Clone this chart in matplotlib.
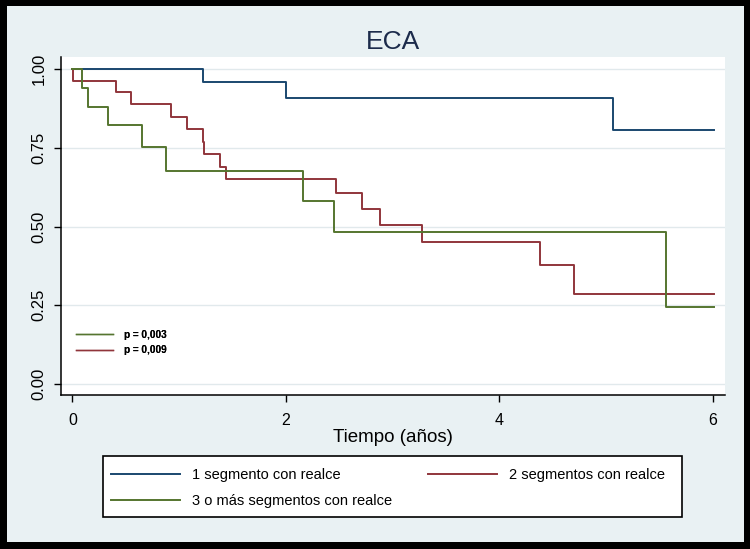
import matplotlib
matplotlib.use("Agg")
import matplotlib.pyplot as plt
from matplotlib.patches import Rectangle
from matplotlib.lines import Line2D

plt.rcParams['font.family'] = ['Liberation Sans', 'DejaVu Sans']

# ---- data ----
t_end = 6.01
blue_times = [0.0, 1.22, 2.00, 5.07]
blue_surv = [1.000, 0.959, 0.909, 0.807]
red_times = [0.0, 0.01, 0.41, 0.55, 0.92, 1.07, 1.22, 1.23, 1.38, 1.44,
             2.47, 2.71, 2.88, 3.28, 4.38, 4.70]
red_surv = [1.000, 0.963, 0.927, 0.890, 0.849, 0.811, 0.770, 0.731, 0.689, 0.650,
            0.606, 0.555, 0.505, 0.452, 0.379, 0.285]
green_times = [0.0, 0.09, 0.15, 0.33, 0.65, 0.88, 2.16, 2.45, 5.56]
green_surv = [1.000, 0.941, 0.879, 0.822, 0.754, 0.678, 0.582, 0.482, 0.244]

labels = ["1 segmento con realce", "2 segmentos con realce", "3 o más segmentos con realce"]
pvals = ["p = 0,003", "p = 0,009"]
xticks = [0, 2, 4, 6]
yticks = [0.0, 0.25, 0.5, 0.75, 1.0]
ytick_labels = ["0.00", "0.25", "0.50", "0.75", "1.00"]

c_blue = "#1a476f"
c_red = "#90353b"
c_green = "#55752f"
bg = "#e9f1f3"

W, H = 750, 549
fig = plt.figure(figsize=(W / 100, H / 100), dpi=100)
fig.patch.set_facecolor("black")
fig.patches.append(Rectangle((7 / W, 1 - 542 / H), 737 / W, 536 / H,
                             transform=fig.transFigure, facecolor=bg,
                             edgecolor="none", zorder=-10))

ax = fig.add_axes([60.7 / W, 1 - 395.3 / H, (725 - 60.7) / W, (395.3 - 57.3) / H])
ax.set_zorder(5)
ax.set_facecolor("white")

def steps(times, surv):
    return list(times) + [t_end], list(surv) + [surv[-1]]

lines = {}
for key, tms, sv, col in [("b", blue_times, blue_surv, c_blue),
                          ("r", red_times, red_surv, c_red),
                          ("g", green_times, green_surv, c_green)]:
    x, y = steps(tms, sv)
    ln, = ax.step(x, y, where="post", color=col, lw=1.4, zorder=3)
    lines[key] = ln

ax.set_xlim(-0.109, 6.115)
ax.set_ylim(-0.036, 1.038)
ax.set_xticks(xticks)
ax.set_yticks(yticks)
ax.set_yticklabels(ytick_labels, rotation=90, va="center")
ax.tick_params(axis="both", direction="out", length=5, width=1, color="black",
               labelsize=11.5)
ax.tick_params(axis="x", pad=8)
ax.tick_params(axis="y", labelsize=12, pad=5)
for s in ["top", "right"]:
    ax.spines[s].set_visible(False)
for s in ["left", "bottom"]:
    ax.spines[s].set_linewidth(1.1)
ax.grid(axis="y", color="#e1e9ec", lw=1.0, zorder=1)
ax.set_axisbelow(True)

ax.set_title("ECA", fontsize=19, color="#1c2b4b", pad=6)
ax.set_xlabel("Tiempo (años)", fontsize=13.5, labelpad=0.5)

# p-value key inside the plot
ph = [Line2D([], [], color=c_green, lw=1.0), Line2D([], [], color=c_red, lw=1.0)]
pl = ax.legend(ph, pvals, loc="center left",
               bbox_to_anchor=((76 - 60.7) / (725 - 60.7), (395.3 - 342.5) / 338),
               frameon=False, borderpad=0, borderaxespad=0,
               prop={"size": 7.2, "weight": "bold"}, handlelength=3.7,
               handletextpad=1.05, labelspacing=0.55)
ax.add_artist(pl)

# main legend below: frame drawn as a separate box
fig.patches.append(Rectangle((102.7 / W, 1 - 517.3 / H), (682 - 102.7) / W, (517.3 - 455.7) / H,
                             transform=fig.transFigure, facecolor="white",
                             edgecolor="black", lw=1.2, zorder=1))
leg = fig.legend([lines["b"], lines["g"], lines["r"]],
                 [labels[0], labels[2], labels[1]],
                 ncol=2, loc="center left",
                 bbox_to_anchor=(110.7 / W, 1 - 488.2 / H),
                 frameon=False, borderaxespad=0, borderpad=0,
                 fontsize=10.5, handlelength=4.75, columnspacing=2.5,
                 handletextpad=0.8, labelspacing=0.85)
leg.set_zorder(2)

fig.savefig("out.png", dpi=100, facecolor=fig.get_facecolor())
